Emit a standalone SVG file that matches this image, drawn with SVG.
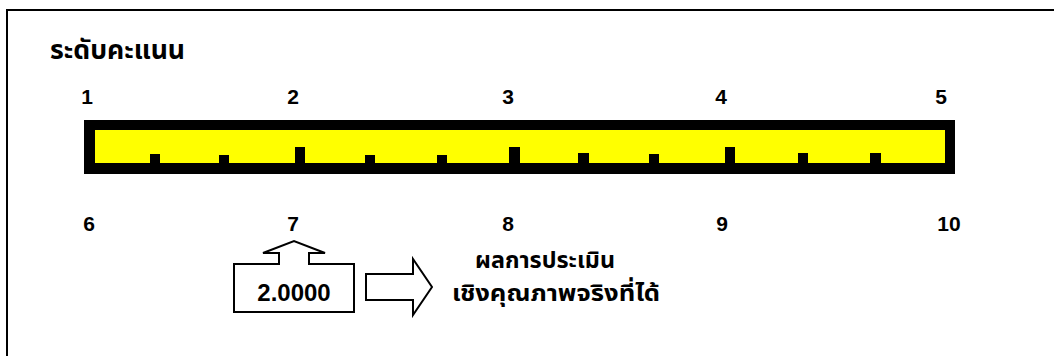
<svg xmlns="http://www.w3.org/2000/svg" width="1054" height="356" viewBox="0 0 1054 356">
<style>
.num{font-family:"Liberation Sans",Arial,sans-serif;font-weight:bold;font-size:21px;fill:#000;text-anchor:middle}
.th{font-family:"Noto Sans Thai","Tahoma","Noto Sans","DejaVu Sans",sans-serif;font-weight:bold;font-size:27px;fill:#000}
.res{font-size:23px}
.tick{fill:#000}
.shape{fill:#fff;stroke:#000;stroke-width:2}
</style>
<rect x="0" y="0" width="1054" height="356" fill="#fff"/>
<rect x="7" y="10" width="1060" height="360" fill="none" stroke="#000" stroke-width="2"/>
<g id="title"><text class="th" x="50" y="59" textLength="135" lengthAdjust="spacingAndGlyphs">ระดับคะแนน</text></g>
<g id="scale">
<rect x="84" y="120" width="871" height="54" fill="#000"/>
<rect x="95" y="130" width="850" height="33" fill="#ffff00"/>
<rect class="tick" x="150" y="154" width="10" height="10"/>
<rect class="tick" x="219" y="155" width="10" height="9"/>
<rect class="tick" x="295" y="147" width="10" height="17"/>
<rect class="tick" x="365" y="155" width="10" height="9"/>
<rect class="tick" x="437" y="155" width="10" height="9"/>
<rect class="tick" x="509" y="147" width="11" height="17"/>
<rect class="tick" x="578" y="153" width="11" height="11"/>
<rect class="tick" x="649" y="154" width="10" height="10"/>
<rect class="tick" x="725" y="147" width="10" height="17"/>
<rect class="tick" x="798" y="153" width="10" height="11"/>
<rect class="tick" x="870" y="153" width="11" height="11"/>
</g>
<g id="labels-top">
<text class="num" x="87" y="104">1</text>
<text class="num" x="293" y="104">2</text>
<text class="num" x="508" y="104">3</text>
<text class="num" x="721" y="104">4</text>
<text class="num" x="941" y="104">5</text>
</g>
<g id="labels-bottom">
<text class="num" x="89" y="231">6</text>
<text class="num" x="293" y="231">7</text>
<text class="num" x="508" y="231">8</text>
<text class="num" x="722" y="231">9</text>
<text class="num" x="949" y="231">10</text>
</g>
<g id="value-callout">
<path class="shape" d="M234,264 L279,264 L279,253 L263,253 L294,241 L325,253 L309,253 L309,264 L354,264 L354,312 L234,312 Z"/>
<text class="num" x="294" y="301" style="font-size:24px">2.0000</text>
</g>
<g id="connectors">
<path class="shape" d="M366,274 L413,274 L413,259 L432,287 L413,315 L413,300 L366,300 Z"/>
</g>
<g id="result">
<text class="th res" x="545" y="268" text-anchor="middle" textLength="140" lengthAdjust="spacingAndGlyphs">ผลการประเมิน</text>
<text class="th res" x="556" y="301" text-anchor="middle" textLength="208" lengthAdjust="spacingAndGlyphs">เชิงคุณภาพจริงที่ได้</text>
</g>
</svg>
